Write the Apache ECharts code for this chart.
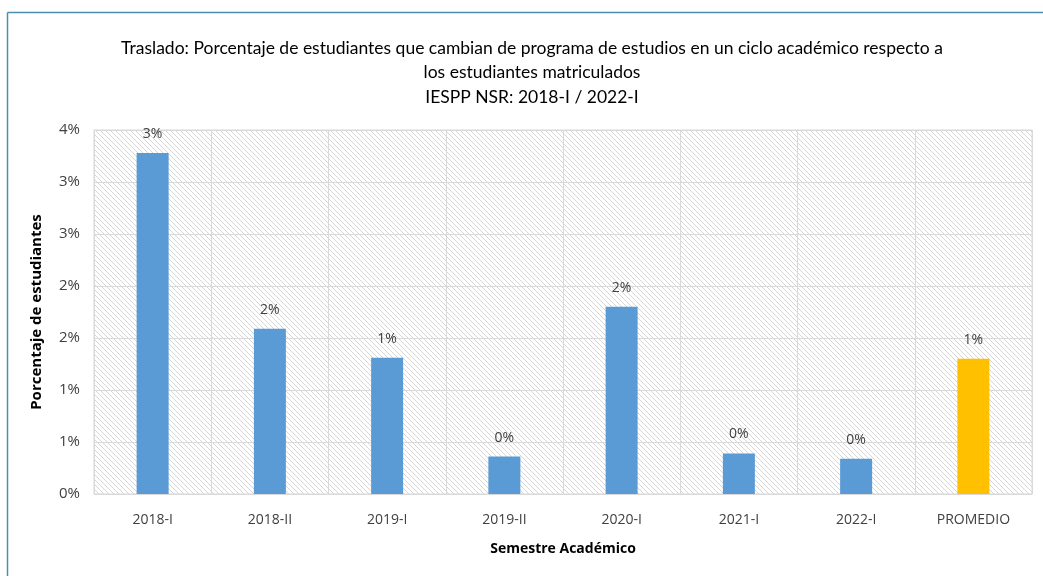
<!DOCTYPE html>
<html>
<head>
<meta charset="utf-8">
<script src="https://cdn.jsdelivr.net/npm/echarts@6/dist/echarts.min.js"></script>
<style>
  html, body { margin: 0; padding: 0; background: #ffffff; }
  #chart { width: 1043px; height: 576px; }
</style>
</head>
<body>
<div id="chart"></div>
<script>
// Semesters and share of students changing study programme (percent)
const semestres = ['2018-I', '2018-II', '2019-I', '2019-II', '2020-I', '2021-I', '2022-I', 'PROMEDIO'];
const porcentajes = [3.28, 1.59, 1.31, 0.36, 1.80, 0.39, 0.34, 1.30];
const yTickLabels = ['0%', '1%', '1%', '2%', '2%', '3%', '3%', '4%'];

const tituloLineas = [
  'Traslado: Porcentaje de estudiantes que cambian de programa de estudios en un ciclo académico respecto a',
  'los estudiantes matriculados',
  'IESPP NSR: 2018-I / 2022-I'
];

const AZUL = '#5B9BD5';
const AMARILLO = '#FFC000';

// diagonal hatch tile for the plot background
function hatchPattern() {
  const s = 5;
  const c = document.createElement('canvas');
  c.width = s; c.height = s;
  const g = c.getContext('2d');
  g.fillStyle = '#ffffff';
  g.fillRect(0, 0, s, s);
  g.strokeStyle = '#d6d6d6';
  g.lineWidth = 1;
  g.beginPath();
  g.moveTo(0, 0); g.lineTo(s, s);
  g.moveTo(-s, 0); g.lineTo(s, 2 * s);
  g.moveTo(0, -s); g.lineTo(2 * s, s);
  g.stroke();
  return { image: c, repeat: 'repeat' };
}

const chart = echarts.init(document.getElementById('chart'), null, { renderer: 'canvas' });

chart.setOption({
  animation: false,
  backgroundColor: '#ffffff',
  title: {
    text: tituloLineas.join('\n'),
    left: 527,
    top: 31,
    textAlign: 'center',
    textStyle: {
      fontFamily: 'Lato, "Open Sans", sans-serif',
      fontSize: 17.5,
      fontWeight: 'normal',
      color: '#000000',
      lineHeight: 24.5
    }
  },
  graphic: [
    { type: 'line', shape: { x1: 7.5, y1: 12.5, x2: 1043, y2: 12.5 }, style: { stroke: '#4b8fb0', lineWidth: 1.5 }, z: 10 },
    { type: 'line', shape: { x1: 7.5, y1: 12.5, x2: 7.5, y2: 576 }, style: { stroke: '#4b8fb0', lineWidth: 1.5 }, z: 10 }
  ],
  grid: {
    left: 94,
    right: 11,
    top: 130,
    bottom: 82,
    show: true,
    backgroundColor: hatchPattern(),
    borderColor: '#d9d9d9',
    borderWidth: 1
  },
  xAxis: {
    type: 'category',
    data: semestres,
    name: 'Semestre Académico',
    nameLocation: 'middle',
    nameGap: 48,
    nameTextStyle: {
      fontFamily: '"Open Sans", sans-serif',
      fontSize: 14,
      fontWeight: 'bold',
      color: '#000000'
    },
    axisLine: { show: true, lineStyle: { color: '#d9d9d9' } },
    axisTick: { show: false },
    axisLabel: {
      margin: 19,
      fontFamily: '"Open Sans", sans-serif',
      fontSize: 14,
      color: '#404040'
    },
    splitLine: { show: true, lineStyle: { color: '#d9d9d9', width: 1 } }
  },
  yAxis: {
    type: 'value',
    min: 0,
    max: 3.5,
    interval: 0.5,
    name: 'Porcentaje de estudiantes',
    nameLocation: 'middle',
    nameGap: 50,
    nameRotate: 90,
    nameTextStyle: {
      fontFamily: '"Open Sans", sans-serif',
      fontSize: 15,
      fontWeight: 'bold',
      color: '#000000'
    },
    axisLine: { show: false },
    axisTick: { show: false },
    axisLabel: {
      margin: 14,
      fontFamily: '"Open Sans", sans-serif',
      fontSize: 15,
      color: '#404040',
      formatter: function (v) {
        return yTickLabels[Math.round(v / 0.5)];
      }
    },
    splitLine: { show: true, lineStyle: { color: '#d9d9d9', width: 1 } }
  },
  series: [{
    type: 'bar',
    data: porcentajes.map(function (v, i) {
      return {
        value: v,
        itemStyle: { color: semestres[i] === 'PROMEDIO' ? AMARILLO : AZUL }
      };
    }),
    barWidth: 32,
    label: {
      show: true,
      position: 'top',
      distance: 12,
      fontFamily: '"Open Sans", sans-serif',
      fontSize: 14,
      color: '#404040',
      formatter: function (p) { return Math.round(p.value) + '%'; }
    }
  }]
});
</script>
</body>
</html>
